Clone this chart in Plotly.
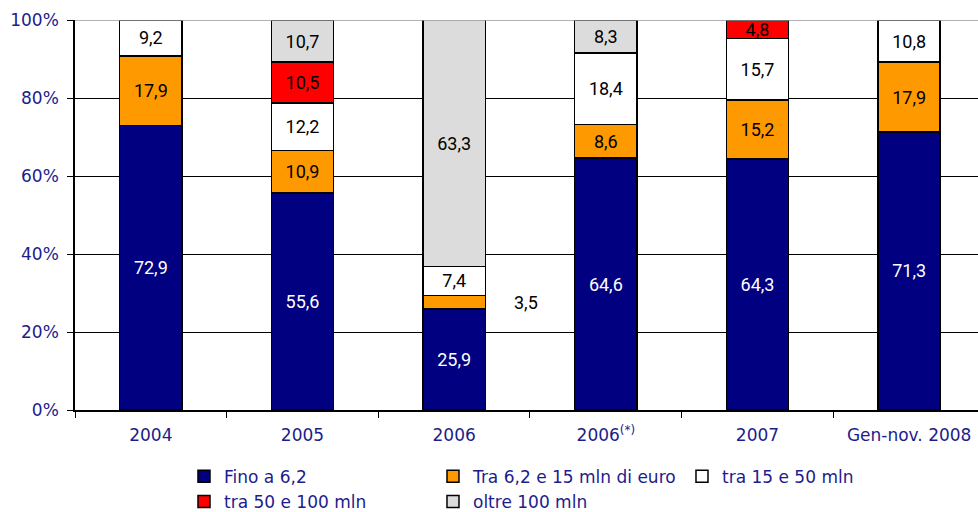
import plotly.graph_objects as go

categories = ["2004", "2005", "2006", "2006<sup>(*)</sup>", "2007", "Gen-nov. 2008"]

series_names = [
    "Fino a 6,2",
    "Tra 6,2 e 15 mln di euro",
    "tra 15 e 50 mln",
    "tra 50 e 100 mln",
    "oltre 100 mln",
]
fino_6_2 = [72.9, 55.6, 25.9, 64.6, 64.3, 71.3]
tra_6_2_15 = [17.9, 10.9, 3.5, 8.6, 15.2, 17.9]
tra_15_50 = [9.2, 12.2, 7.4, 18.4, 15.7, 10.8]
tra_50_100 = [0.0, 10.5, 0.0, 0.0, 4.8, 0.0]
oltre_100 = [0.0, 10.7, 63.3, 8.3, 0.0, 0.0]

series_values = [fino_6_2, tra_6_2_15, tra_15_50, tra_50_100, oltre_100]
colors = ["#000080", "#ff9900", "#ffffff", "#ff0000", "#dcdcdc"]
label_colors = ["#ffffff", "#000000", "#000000", "#000000", "#000000"]

y_ticks = [0, 20, 40, 60, 80, 100]
y_tick_labels = ["0%", "20%", "40%", "60%", "80%", "100%"]

AXIS_BLUE = "#1c1c8c"
LABEL_FONT = "Roboto, Arial, sans-serif"
AXIS_FONT = "DejaVu Sans, Verdana, sans-serif"


def fmt(v):
    return f"{v:.1f}".replace(".", ",")


fig = go.Figure()
for name, vals, col, lcol in zip(series_names, series_values, colors, label_colors):
    texts = []
    for cat, v in zip(categories, vals):
        # the thin 2006 orange slice is labelled beside the bar instead
        if v == 0 or (cat == "2006" and name.startswith("Tra 6,2")):
            texts.append("")
        else:
            texts.append(fmt(v))
    fig.add_trace(go.Bar(
        name=name,
        x=categories,
        y=vals,
        marker=dict(color=col, line=dict(color="#000000", width=1.5)),
        width=0.41,
        text=texts,
        textposition="inside",
        insidetextanchor="middle",
        textangle=0,
        constraintext="none",
        textfont=dict(family=LABEL_FONT, size=18, color=lcol),
        hoverinfo="skip",
    ))

# label for the small 2006 slice, placed to the right of the bar at the slice's mid-height
fig.add_annotation(
    x=2, y=fino_6_2[2] + tra_6_2_15[2] / 2, xref="x", yref="y",
    text=fmt(tra_6_2_15[2]), showarrow=False,
    xshift=72,
    font=dict(family=LABEL_FONT, size=18, color="#000000"),
)

# top border line in grey
fig.add_shape(type="line", xref="paper", yref="y", x0=0, x1=1, y0=100, y1=100,
              line=dict(color="#999999", width=1.5), layer="above")

fig.update_layout(
    barmode="stack",
    width=978, height=512,
    margin=dict(l=75, r=0, t=20, b=102, autoexpand=False),
    paper_bgcolor="#ffffff",
    plot_bgcolor="#ffffff",
    uniformtext=dict(minsize=18, mode="show"),
    showlegend=True,
    legend=dict(
        orientation="h",
        x=0.1207, y=0.104, xref="paper", yref="container",
        xanchor="left", yanchor="top",
        entrywidth=204, entrywidthmode="pixels",
        traceorder="normal",
        font=dict(family=AXIS_FONT, size=17, color=AXIS_BLUE),
        tracegroupgap=0,
        bgcolor="rgba(0,0,0,0)",
    ),
    xaxis=dict(
        type="category",
        range=[-0.5, 5.454],
        showline=True, linecolor="#000000", linewidth=1.5,
        ticks="outside", tickson="boundaries", ticklen=6, tickcolor="#000000",
        ticklabelstandoff=9,
        showgrid=False,
        automargin=False,
        tickfont=dict(family=AXIS_FONT, size=17, color=AXIS_BLUE),
    ),
    yaxis=dict(
        range=[0, 100],
        tickvals=y_ticks, ticktext=y_tick_labels,
        showline=True, linecolor="#000000", linewidth=1.5,
        ticks="outside", ticklen=6, tickcolor="#000000",
        ticklabelstandoff=5,
        showgrid=True, gridcolor="#000000", gridwidth=1,
        zeroline=False,
        automargin=False,
        tickfont=dict(family=AXIS_FONT, size=17, color=AXIS_BLUE),
    ),
)

fig.write_html("out.html")
